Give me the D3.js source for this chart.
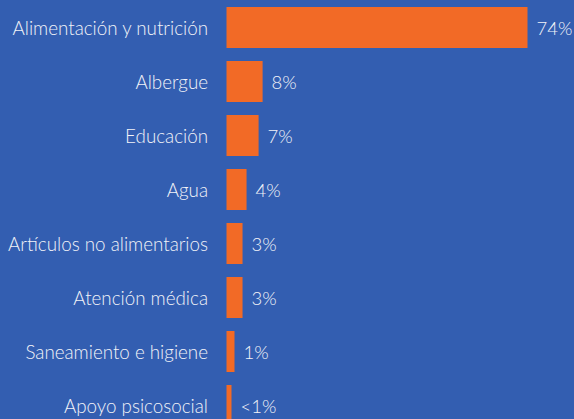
<!DOCTYPE html>
<html>
<head>
<meta charset="utf-8">
<script src="https://cdn.jsdelivr.net/npm/d3@7"></script>
<style>
html,body{margin:0;padding:0;background:#335EB1;}
svg{display:block;}
text{font-family:Lato,"Open Sans",sans-serif;fill:#F2F3F8;font-weight:300;}
</style>
</head>
<body>
<svg id="chart" width="574" height="419"></svg>
<script>
const categories = ["Alimentación y nutrición","Albergue","Educación","Agua","Artículos no alimentarios","Atención médica","Saneamiento e higiene","Apoyo psicosocial"];
const values = [74, 8, 7, 4, 3, 3, 1, 0.25];
const valueLabels = ["74%","8%","7%","4%","3%","3%","1%","<1%"];

const W = 574, H = 419;
const svg = d3.select("#chart");
svg.append("rect").attr("width", W).attr("height", H).attr("fill", "#335EB1");

const left = 226.5;
const x = d3.scaleLinear().domain([0, 74]).range([4, 301]);

const step = 54, bh = 41, top0 = 7;
const yPos = d3.scaleOrdinal().domain(categories).range(categories.map((c,i)=>top0 + i*step));

const g = svg.append("g");
const rows = g.selectAll("g.row").data(categories.map((c,i)=>({c, v: values[i], l: valueLabels[i]})))
  .join("g").attr("class","row");

rows.append("rect")
  .attr("x", left)
  .attr("y", d => yPos(d.c))
  .attr("width", d => x(d.v))
  .attr("height", bh)
  .attr("fill", "#F26A26");

rows.append("text")
  .attr("x", 208)
  .attr("y", d => yPos(d.c) + bh/2)
  .attr("dy", "0.4em")
  .attr("text-anchor", "end")
  .attr("font-size", 18.8)
  .text(d => d.c);

rows.append("text")
  .attr("x", d => left + x(d.v) + 9)
  .attr("y", d => yPos(d.c) + bh/2)
  .attr("dy", "0.4em")
  .attr("font-size", 18.5)
  .text(d => d.l);
</script>
</body>
</html>
